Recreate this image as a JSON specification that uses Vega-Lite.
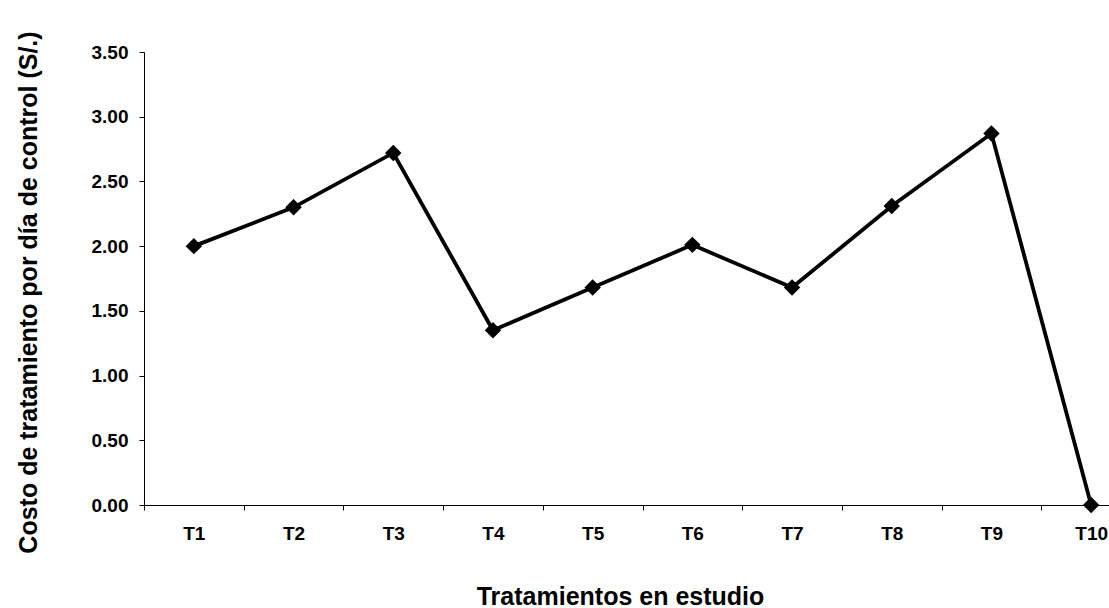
{
  "$schema": "https://vega.github.io/schema/vega-lite/v6.json",
  "autosize": {"type": "none"},
  "width": 965,
  "height": 453,
  "padding": {"left": 144, "top": 52, "right": 0, "bottom": 103},
  "background": "white",
  "config": {
    "view": {"stroke": null},
    "font": "Liberation Sans",
    "axis": {
      "grid": false,
      "domainColor": "black",
      "tickColor": "black",
      "labelColor": "black",
      "titleColor": "black",
      "labelFont": "Liberation Sans",
      "titleFont": "Liberation Sans",
      "labelFontWeight": "bold",
      "titleFontWeight": "bold",
      "labelFontSize": 19,
      "titleFontSize": 25,
      "tickSize": 5
    }
  },
  "data": {
    "values": [
      {"tratamiento": "T1", "costo": 2.00},
      {"tratamiento": "T2", "costo": 2.30},
      {"tratamiento": "T3", "costo": 2.72},
      {"tratamiento": "T4", "costo": 1.35},
      {"tratamiento": "T5", "costo": 1.68},
      {"tratamiento": "T6", "costo": 2.01},
      {"tratamiento": "T7", "costo": 1.68},
      {"tratamiento": "T8", "costo": 2.31},
      {"tratamiento": "T9", "costo": 2.87},
      {"tratamiento": "T10", "costo": 0.00}
    ]
  },
  "encoding": {
    "x": {
      "field": "tratamiento",
      "type": "ordinal",
      "sort": null,
      "scale": {"type": "band", "range": [0, 997], "paddingInner": 0, "paddingOuter": 0},
      "axis": {
        "title": "Tratamientos en estudio",
        "labelAngle": 0,
        "tickBand": "extent",
        "labelPadding": 14,
        "titleX": 476,
        "titleY": 99,
        "titleBaseline": "alphabetic",
        "titleAlign": "center"
      }
    },
    "y": {
      "field": "costo",
      "type": "quantitative",
      "scale": {"domain": [0, 3.5], "nice": false, "zero": true},
      "axis": {
        "title": "Costo de tratamiento por día de control (S/.)",
        "values": [0, 0.5, 1, 1.5, 2, 2.5, 3, 3.5],
        "format": ".2f",
        "labelPadding": 11,
        "titleX": -108,
        "titleY": 240,
        "titleAngle": -90,
        "titleBaseline": "alphabetic",
        "titleAlign": "center"
      }
    }
  },
  "layer": [
    {
      "mark": {"type": "line", "color": "black", "strokeWidth": 3.8, "clip": false}
    },
    {
      "mark": {"type": "point", "shape": "diamond", "filled": true, "color": "black", "size": 270, "opacity": 1, "clip": false}
    }
  ]
}
